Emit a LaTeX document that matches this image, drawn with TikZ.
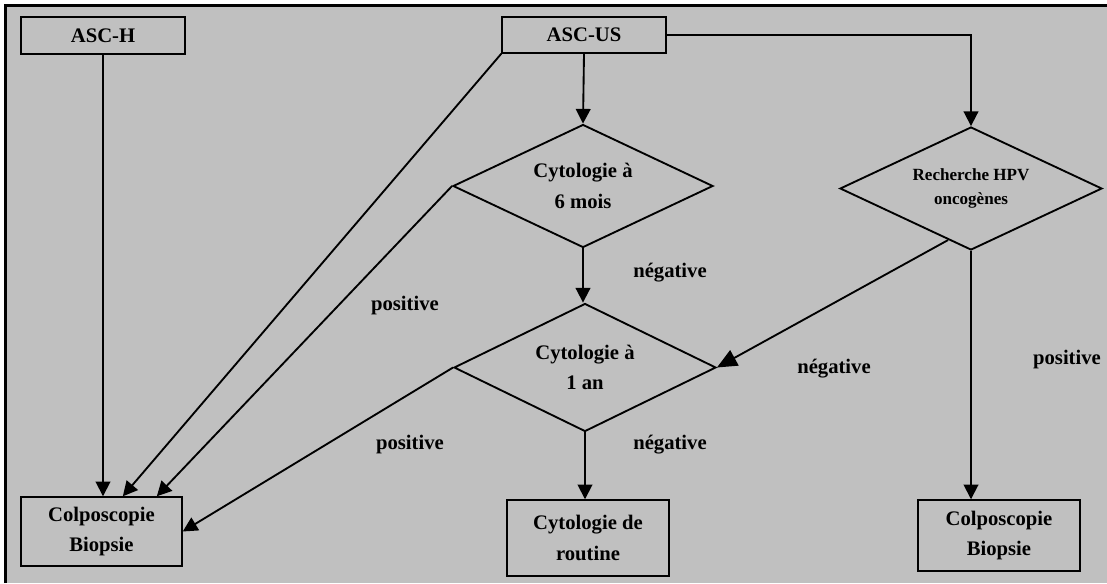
\documentclass[tikz,border=0pt]{standalone}
\usepackage{fontspec}
\setmainfont{Liberation Serif}
\usetikzlibrary{shapes.geometric,arrows.meta}
\definecolor{bggray}{HTML}{C0C0C0}

\begin{document}
\begin{tikzpicture}[x=0.75pt, y=-0.75pt,
    box/.style={draw, line width=1.1pt, inner sep=0pt, align=center,
      font=\bfseries\fontsize{15.5}{23}\selectfont},
    test/.style={draw, diamond, aspect=2.1, line width=1.4pt, inner sep=0pt,
      align=center, font=\bfseries\fontsize{15.5}{23}\selectfont},
    lab/.style={font=\bfseries\fontsize{15.5}{18}\selectfont},
    arr/.style={line width=1.4pt, -{Triangle[width=11pt,length=11pt]}},
    bigarr/.style={line width=1.4pt, -{Triangle[width=13pt,length=15pt]}}]
  \useasboundingbox (0,0) rectangle (1107,583);
  \fill[white] (0,0) rectangle (1107,583);
  \fill[bggray] (5.3,5.3) rectangle (1107,583);
  \draw[line width=2pt] (5.3,583) -- (5.3,5.3) -- (1107,5.3);

  % boxes
  \node[box, minimum width=123pt, minimum height=27.75pt] (asch) at (103,35.5) {ASC-H};
  \node[box, minimum width=123pt, minimum height=27pt] (ascus) at (584,35) {ASC-US};
  \node[box, minimum width=120.75pt, minimum height=51.75pt] (colpol) at (101.5,531.5)
    {Colposcopie\\Biopsie};
  \node[box, minimum width=121.5pt, minimum height=57pt] (routine) at (588,538)
    {Cytologie de\\routine};
  \node[box, minimum width=121.5pt, minimum height=53.25pt] (colpor) at (999,535.5)
    {Colposcopie\\Biopsie};

  % tests
  \node[test, minimum width=195pt, minimum height=92.25pt] (six) at (583,186)
    {Cytologie à\\6 mois};
  \node[test, minimum width=196.5pt, minimum height=96pt] (an) at (585,367.5)
    {Cytologie à\\1 an};
  \node[test, minimum width=196.5pt, minimum height=92.25pt,
    font=\bfseries\fontsize{12.8}{17.5}\selectfont] (hpv) at (971,188.5)
    {Recherche HPV\\oncogènes};

  % labels
  \node[lab] (negsix) at (670,273) {négative};
  \node[lab] (possix) at (405,306) {positive};
  \node[lab] (posan) at (410,445) {positive};
  \node[lab] (negan) at (670,445) {négative};
  \node[lab] (neghpv) at (834,369) {négative};
  \node[lab] (poshpv) at (1067,360) {positive};

  % arrows
  \draw[arr] (asch.south) -- (asch.south |- colpol.north);
  \draw[arr] (ascus.south west) -- ([xshift=16pt]colpol.north);
  \draw[arr] (six.west) -- ([xshift=41.5pt]colpol.north);
  \draw[arr] (an.west) -- (colpol.east);
  \draw[arr] (ascus.south) -- (six.north);
  \draw[arr] (six.south) -- (six.south |- an.north);
  \draw[arr] (an.south) -- (an.south |- routine.north);
  \draw[arr] (ascus.east) -| (hpv.north);
  \draw[arr] (hpv.south) -- (hpv.south |- colpor.north);
  \draw[bigarr] (hpv.246) -- (an.east);
\end{tikzpicture}
\end{document}
